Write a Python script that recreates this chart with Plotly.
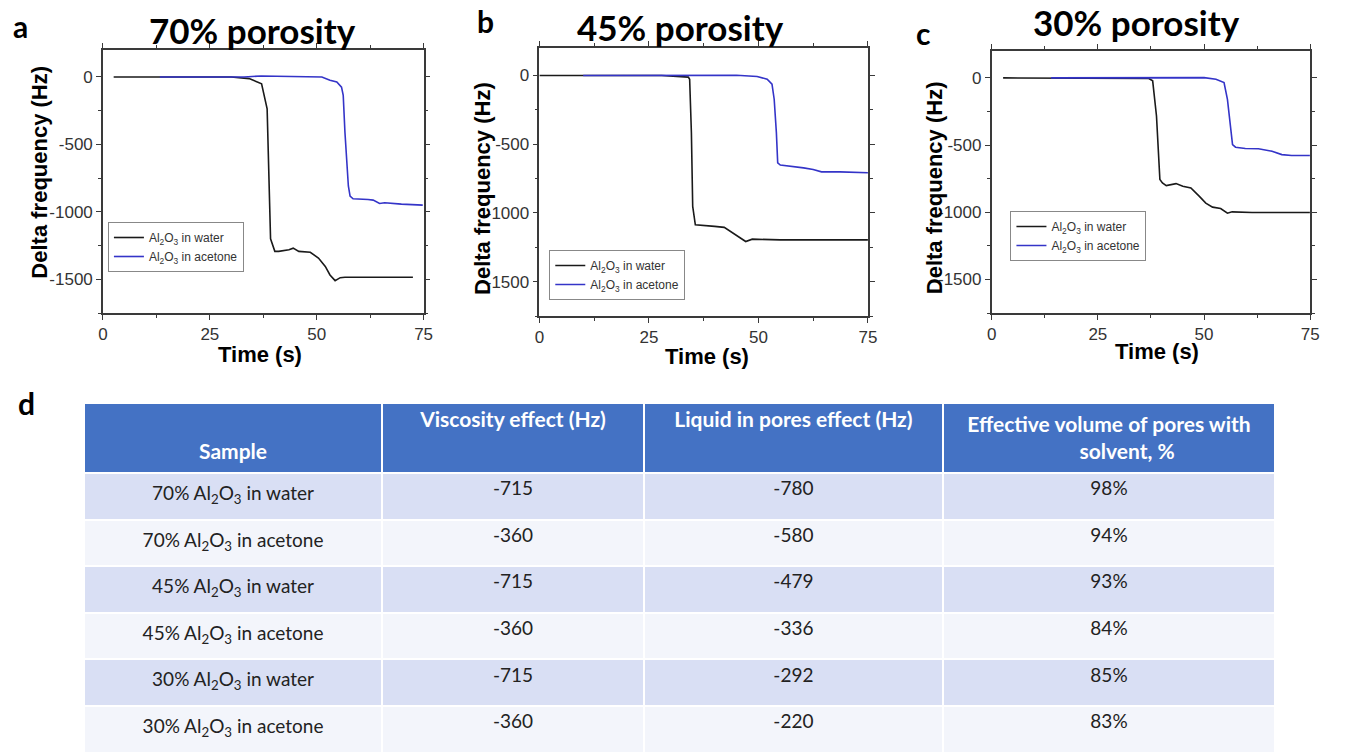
import plotly.graph_objects as go

# ---------------- data: panel a (70% porosity) ----------------
t_a_water = [2.5, 30, 34.2, 37.1, 38.4, 38.8, 39.2, 40.2, 41.1, 43.5, 44.5, 45.8, 48.5, 50.4, 52, 53.1, 54.3, 55.5, 56.6, 72.5]
f_a_water = [0, 0, -12, -50, -236, -660, -1200, -1293, -1293, -1281, -1269, -1293, -1300, -1343, -1405, -1468, -1510, -1488, -1485, -1485]
t_a_acet = [13.3, 33, 37, 50, 51.2, 53.1, 54.7, 55.8, 56.2, 56.6, 57, 57.4, 57.8, 58.5, 62, 63.2, 64.7, 65.9, 69.8, 74.8]
f_a_acet = [0, 0, 7, 5, 0, -25, -37, -75, -137, -410, -660, -808, -883, -903, -908, -913, -938, -933, -943, -950]

# ---------------- data: panel b (45% porosity) ----------------
t_b_water = [0, 27.9, 34, 34.3, 34.7, 35, 35.6, 36.9, 40, 42.2, 43.7, 45.2, 47.1, 48.6, 55, 75]
f_b_water = [0, 0, -12, -27, -416, -952, -1086, -1088, -1098, -1105, -1135, -1166, -1208, -1191, -1196, -1196]
t_b_acet = [10, 45, 49.7, 52, 53.1, 53.6, 54.1, 54.4, 55, 57.3, 60.3, 62.5, 64.4, 68.6, 75]
f_b_acet = [0, 2, -7, -27, -63, -173, -416, -635, -652, -660, -672, -684, -701, -701, -708]

# ---------------- data: panel c (30% porosity) ----------------
t_c_water = [2.7, 37, 37.9, 38.8, 39.6, 40.2, 41.1, 43.4, 45, 46.9, 48.9, 50.4, 52, 53.9, 55.5, 56.6, 61.3, 74.9]
f_c_water = [0, -5, -22, -284, -757, -782, -802, -787, -807, -820, -882, -932, -962, -972, -1007, -997, -1002, -1002]
t_c_acet = [14, 50, 52.8, 54.7, 55.5, 56.3, 56.7, 57.4, 59.7, 62.8, 66, 68.3, 70.6, 74.9]
f_c_acet = [0, 2, -10, -35, -160, -409, -496, -516, -526, -528, -546, -571, -578, -578]

panel_titles = ["70% porosity", "45% porosity", "30% porosity"]
panel_letters = ["a", "b", "c", "d"]
series_names = ["Al<sub>2</sub>O<sub>3</sub> in water", "Al<sub>2</sub>O<sub>3</sub> in acetone"]
x_ticks = [0, 25, 50, 75]
x_ticktext = ["0", "25", "50", "75"]
y_ticks = [0, -500, -1000, -1500]
y_ticktext = ["0", "-500", "-1000", "-1500"]

# ---------------- data: table d ----------------
table_header = ["\u00a0<br>Sample", "Viscosity effect (Hz)", "Liquid in pores effect (Hz)",
                "Effective volume of pores with<br>" + "\u00a0" * 22 + "solvent, %"]
samples = ["70% Al<sub>2</sub>O<sub>3</sub> in water", "70% Al<sub>2</sub>O<sub>3</sub> in acetone",
           "45% Al<sub>2</sub>O<sub>3</sub> in water", "45% Al<sub>2</sub>O<sub>3</sub> in acetone",
           "30% Al<sub>2</sub>O<sub>3</sub> in water", "30% Al<sub>2</sub>O<sub>3</sub> in acetone"]
viscosity_effect = ["-715", "-360", "-715", "-360", "-715", "-360"]
liquid_in_pores = ["-780", "-580", "-479", "-336", "-292", "-220"]
effective_volume = ["98%", "94%", "93%", "84%", "85%", "83%"]

# ---------------- figure ----------------
W, H = 1347, 753
BLACK = "#1a1a1a"
BLUE = "#3434c8"

fig = go.Figure()

panels = [
    (t_a_water, f_a_water, t_a_acet, f_a_acet),
    (t_b_water, f_b_water, t_b_acet, f_b_acet),
    (t_c_water, f_c_water, t_c_acet, f_c_acet),
]
# plot-area pixel boxes (left, right, top, bottom)
boxes = [(99, 423, 50, 313), (540, 872, 48, 316), (997, 1319, 51, 313)]
legend_pos = [(104, 222), (550, 250), (1016, 211)]
title_pos = [(250, 30), (683, 27), (1143, 22)]
letter_pos = [(16, 26), (486, 21), (928, 33), (22, 403)]
ytitle_pos = [(34, 172), (482, 188), (939, 188)]
xtitle_pos = [(258, 354), (709, 356), (1164, 351)]

for i, (tw, fw, ta, fa) in enumerate(panels):
    sfx = "" if i == 0 else str(i + 1)
    lg = "legend" if i == 0 else "legend" + str(i + 1)
    fig.add_trace(go.Scatter(x=tw, y=fw, mode="lines", name=series_names[0],
                             line=dict(color=BLACK, width=1.6),
                             xaxis="x" + sfx, yaxis="y" + sfx, legend=lg))
    fig.add_trace(go.Scatter(x=ta, y=fa, mode="lines", name=series_names[1],
                             line=dict(color=BLUE, width=1.6),
                             xaxis="x" + sfx, yaxis="y" + sfx, legend=lg))
    l, r, t, b = boxes[i]
    axcommon = dict(showgrid=False, zeroline=False, showline=True, mirror="allticks",
                    linecolor="#3a3a3a", linewidth=1.5, ticks="outside", ticklen=5,
                    tickwidth=1.2, tickcolor="#3a3a3a",
                    tickfont=dict(family="Arial", size=17, color="#333"))
    fig.update_layout(**{
        "xaxis" + sfx: dict(domain=[l / W, r / W], anchor="y" + sfx, range=[0, 75],
                            tickvals=x_ticks, ticktext=x_ticktext,
                            minor=dict(dtick=12.5, ticklen=3, tickcolor="#3a3a3a", ticks="outside"),
                            **axcommon),
        "yaxis" + sfx: dict(domain=[1 - b / H, 1 - t / H], anchor="x" + sfx, range=[-1750, 200],
                            tickvals=y_ticks, ticktext=y_ticktext,
                            minor=dict(dtick=250, ticklen=3, tickcolor="#3a3a3a", ticks="outside"),
                            **axcommon),
        lg: dict(x=legend_pos[i][0] / W, y=1 - legend_pos[i][1] / H, xanchor="left", yanchor="top",
                 bgcolor="white", bordercolor="#888", borderwidth=1,
                 font=dict(family="Arial", size=12, color="#333"), itemwidth=30,
                 tracegroupgap=0),
    })
    fig.add_annotation(text=panel_titles[i], x=title_pos[i][0] / W, y=1 - title_pos[i][1] / H,
                       xref="paper", yref="paper", showarrow=False, xanchor="center", yanchor="middle",
                       font=dict(family="Lato", size=35, color="black", weight="bold"))
    fig.add_annotation(text="Delta frequency (Hz)", x=ytitle_pos[i][0] / W, y=1 - ytitle_pos[i][1] / H,
                       xref="paper", yref="paper", showarrow=False, textangle=-90,
                       xanchor="center", yanchor="middle",
                       font=dict(family="Arial", size=22, color="black", weight="bold"))
    fig.add_annotation(text="Time (s)", x=xtitle_pos[i][0] / W, y=1 - xtitle_pos[i][1] / H,
                       xref="paper", yref="paper", showarrow=False, xanchor="center", yanchor="middle",
                       font=dict(family="Arial", size=22, color="black", weight="bold"))

for j, letter in enumerate(panel_letters):
    fig.add_annotation(text=letter, x=letter_pos[j][0] / W, y=1 - letter_pos[j][1] / H,
                       xref="paper", yref="paper", showarrow=False, xanchor="center", yanchor="middle",
                       font=dict(family="Lato", size=30, color="black", weight="bold"))

# ---------------- table ----------------
band1 = "#d9dff4"
band2 = "#f3f5fb"
row_colors = [band1, band2, band1, band2, band1, band2]
fig.add_trace(go.Table(
    domain=dict(x=[80 / W, 1284 / W], y=[0, 1 - 403 / H]),
    columnwidth=[301, 265, 302, 336],
    header=dict(values=table_header, fill_color="#4472c4", height=70,
                line=dict(color="white", width=2), align="center",
                font=dict(family="Lato", size=21, color="white", weight="bold")),
    cells=dict(values=[samples, viscosity_effect, liquid_in_pores, effective_volume],
               fill_color=[row_colors] * 4, height=46.6,
               line=dict(color="white", width=2), align="center",
               font=dict(family="Lato", size=19, color="#222")),
))

fig.update_layout(width=W, height=H, autosize=False, margin=dict(l=0, r=0, t=0, b=0),
                  paper_bgcolor="white", plot_bgcolor="white")

fig.write_html("out.html", config={"displayModeBar": False},
               post_script="document.body.style.margin='0';document.body.style.overflow='hidden';")
